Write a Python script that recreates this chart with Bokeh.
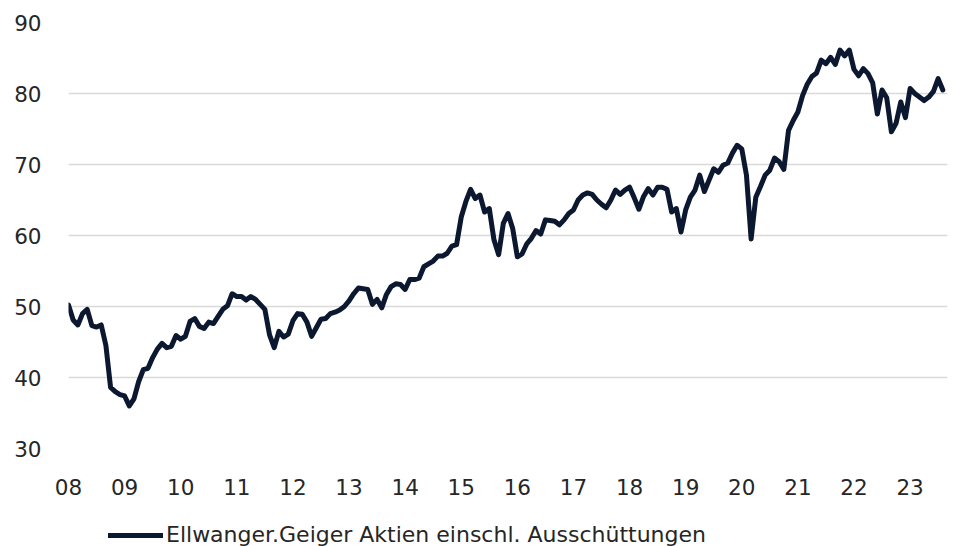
from bokeh.plotting import figure
from bokeh.layouts import column
from bokeh.models import Range1d, FixedTicker, Legend, LegendItem, ColumnDataSource
from bokeh.embed import file_html
from bokeh.resources import INLINE

# Monthly index values, Jan 2008 .. Aug 2023
values = [
    50.2, 48.1, 47.4, 49.0, 49.6, 47.3, 47.1, 47.4, 44.5, 38.6, 38.0, 37.6,   # 2008
    37.4, 36.0, 37.0, 39.4, 41.1, 41.3, 42.8, 44.0, 44.8, 44.2, 44.4, 45.9,   # 2009
    45.4, 45.8, 47.9, 48.3, 47.2, 46.9, 47.8, 47.6, 48.6, 49.6, 50.1, 51.8,   # 2010
    51.4, 51.4, 50.9, 51.4, 51.0, 50.3, 49.6, 46.0, 44.2, 46.5, 45.7, 46.1,   # 2011
    48.0, 49.0, 48.9, 47.8, 45.8, 47.0, 48.2, 48.3, 49.0, 49.2, 49.5, 50.0,   # 2012
    50.8, 51.8, 52.6, 52.5, 52.4, 50.3, 51.0, 49.8, 51.7, 52.8, 53.2, 53.1,   # 2013
    52.4, 53.8, 53.8, 54.0, 55.6, 56.0, 56.4, 57.1, 57.1, 57.5, 58.5, 58.7,   # 2014
    62.6, 64.8, 66.5, 65.2, 65.7, 63.3, 63.8, 59.4, 57.3, 61.7, 63.1, 61.0,   # 2015
    57.0, 57.4, 58.8, 59.6, 60.7, 60.2, 62.2, 62.1, 62.0, 61.5, 62.2, 63.1,   # 2016
    63.6, 65.0, 65.7, 66.0, 65.8, 65.0, 64.4, 63.9, 65.0, 66.4, 65.8, 66.4,   # 2017
    66.8, 65.3, 63.7, 65.5, 66.6, 65.7, 66.8, 66.8, 66.5, 63.3, 63.8, 60.5,   # 2018
    63.6, 65.4, 66.4, 68.5, 66.2, 67.8, 69.4, 68.9, 69.9, 70.2, 71.6, 72.7,   # 2019
    72.2, 68.5, 59.5, 65.4, 66.9, 68.5, 69.2, 70.9, 70.4, 69.3, 74.8, 76.2,   # 2020
    77.4, 79.7, 81.3, 82.4, 82.9, 84.7, 84.2, 85.1, 84.1, 86.1, 85.3, 86.1,   # 2021
    83.4, 82.5, 83.5, 82.8, 81.5, 77.1, 80.5, 79.4, 74.6, 75.8, 78.8, 76.6,   # 2022
    80.7, 80.0, 79.5, 79.0, 79.5, 80.3, 82.1, 80.5,                           # 2023
]
months = list(range(len(values)))
year_ticks = [0, 12, 24, 36, 48, 60, 72, 84, 96, 108, 120, 132, 144, 156, 168, 180]
year_labels = ["08", "09", "10", "11", "12", "13", "14", "15", "16", "17",
               "18", "19", "20", "21", "22", "23"]
y_ticks = [30, 40, 50, 60, 70, 80, 90]
series_name = "Ellwanger.Geiger Aktien einschl. Ausschüttungen"

FONT = "DejaVu Sans"
TEXT_COLOR = "#262626"
LINE_COLOR = "#0b1830"

p = figure(width=948, height=520, output_backend="svg", toolbar_location=None,
           x_range=Range1d(0, 188), y_range=Range1d(30, 90),
           min_border_left=68, min_border_right=1, min_border_top=22,
           min_border_bottom=72)
p.outline_line_color = None
p.background_fill_color = "white"
p.border_fill_color = "white"

src = ColumnDataSource(dict(x=months, y=values))
p.line("x", "y", source=src, line_width=5, line_color=LINE_COLOR,
       line_join="round", line_cap="round")

p.xgrid.grid_line_color = None
p.ygrid.grid_line_color = "#d9d9d9"
p.ygrid.grid_line_width = 1.5

for ax in (p.xaxis, p.yaxis):
    ax.axis_line_color = None
    ax.major_tick_line_color = None
    ax.minor_tick_line_color = None
    ax.major_tick_out = 0
    ax.major_tick_in = 0
    ax.major_label_text_font = FONT
    ax.major_label_text_font_size = "21.5px"
    ax.major_label_text_color = TEXT_COLOR

p.xaxis.ticker = FixedTicker(ticks=year_ticks)
p.xaxis.major_label_overrides = {t: l for t, l in zip(year_ticks, year_labels)}
p.xaxis.major_label_standoff = 30
p.yaxis.ticker = FixedTicker(ticks=y_ticks)
p.yaxis.major_label_standoff = 27

# legend strip below the chart
lf = figure(width=948, height=26, output_backend="svg", toolbar_location=None,
            x_range=Range1d(0, 1), y_range=Range1d(0, 1),
            x_axis_location=None, y_axis_location=None,
            min_border_left=0, min_border_right=0, min_border_top=0,
            min_border_bottom=0)
lf.outline_line_color = None
lf.xgrid.grid_line_color = None
lf.ygrid.grid_line_color = None
lf.border_fill_color = "white"
lf.background_fill_color = "white"
# legend-only renderer (its data lies outside this strip's ranges)
key = lf.line("x", "y", source=src, line_width=5, line_color=LINE_COLOR,
              line_cap="round")

legend = Legend(items=[LegendItem(label=series_name, renderers=[key])],
                location=(40, -1), orientation="horizontal")
legend.border_line_color = None
legend.background_fill_alpha = 0
legend.padding = 0
legend.margin = 0
legend.spacing = 0
legend.glyph_width = 55
legend.glyph_height = 20
legend.label_standoff = 3
legend.label_height = 20
legend.label_text_font = FONT
legend.label_text_font_size = "22px"
legend.label_text_color = TEXT_COLOR
lf.add_layout(legend, "center")

layout = column(p, lf, spacing=0)
open("out.html", "w").write(file_html(layout, INLINE))
